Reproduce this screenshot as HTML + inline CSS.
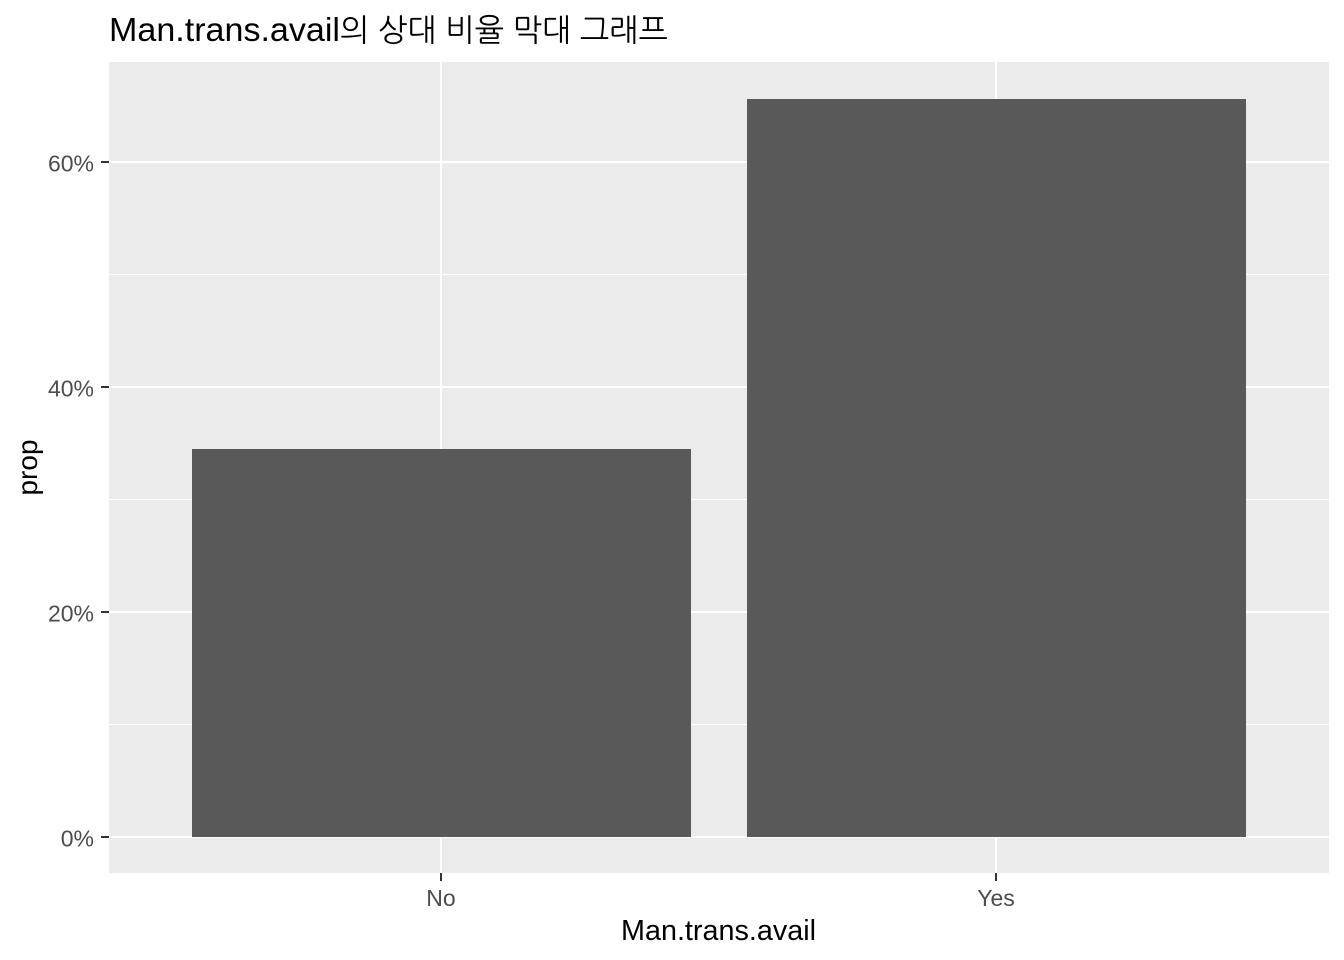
<!DOCTYPE html>
<html lang="ko">
<head>
<meta charset="utf-8">
<title>Man.trans.avail bar chart</title>
<style>
html,body{margin:0;padding:0;background:#fff;width:1344px;height:960px;overflow:hidden}
svg{display:block}
text{font-family:"Liberation Sans","NanumGothic","Noto Sans CJK KR",sans-serif}
</style>
</head>
<body>
<svg id="chart" width="1344" height="960" viewBox="0 0 1344 960" xmlns="http://www.w3.org/2000/svg">
<rect x="0" y="0" width="1344" height="960" fill="#ffffff"/>
<text x="109" y="41" font-size="33" fill="#000000"><tspan textLength="231" lengthAdjust="spacingAndGlyphs">Man.trans.avail</tspan><tspan font-size="31.2">의 상대 비율 막대 그래프</tspan></text>
<rect x="109" y="62" width="1220" height="811" fill="#ebebeb"/>
<g id="grid-minor"></g>
<g id="grid-major"></g>
<g id="bars"></g>
<g id="axis-y"></g>
<g id="axis-x"></g>
<text x="718.5" y="940" font-size="29" text-anchor="middle" fill="#000000" textLength="195" lengthAdjust="spacingAndGlyphs">Man.trans.avail</text>
<text transform="translate(37 467.5) rotate(-90)" font-size="28" text-anchor="middle" fill="#000000">prop</text>
</svg>
<script>
const categories = ['No', 'Yes'];
const proportions = [34.5, 65.6];
const yTickValues = [0, 20, 40, 60];
const yTickLabels = ['0%', '20%', '40%', '60%'];
const yMinorValues = [10, 30, 50];

const NS = 'http://www.w3.org/2000/svg';
const panel = { left: 109, right: 1329, top: 62, bottom: 873 };
const scaleArea = { left: 108.4, right: 1329.4, top: 62, bottom: 874 };
const barWidthBand = 0.9;

function xScale(position) {
  const domainMin = 0.4;
  const domainMax = categories.length + 0.6;
  return scaleArea.left + (position - domainMin) / (domainMax - domainMin) * (scaleArea.right - scaleArea.left);
}
function yScale(value) {
  const top = Math.max(...proportions);
  const pad = top * 0.05;
  const domainMin = -pad;
  const domainMax = top + pad;
  return scaleArea.bottom - (value - domainMin) / (domainMax - domainMin) * (scaleArea.bottom - scaleArea.top);
}
function make(tag, parent, attrs) {
  const el = document.createElementNS(NS, tag);
  for (const key in attrs) el.setAttribute(key, attrs[key]);
  parent.appendChild(el);
  return el;
}

const gridMinor = document.getElementById('grid-minor');
const gridMajor = document.getElementById('grid-major');
const barsGroup = document.getElementById('bars');
const axisY = document.getElementById('axis-y');
const axisX = document.getElementById('axis-x');

yMinorValues.forEach(function (v) {
  const y = Math.floor(yScale(v)) + 0.5;
  const line = make('line', gridMinor, { x1: panel.left, x2: panel.right, y1: y, y2: y, stroke: '#ffffff', 'stroke-width': 1 });
  
  
});

yTickValues.forEach(function (v, i) {
  const y = Math.round(yScale(v));
  const grid = make('line', gridMajor, { x1: panel.left, x2: panel.right, y1: y, y2: y, stroke: '#ffffff', 'stroke-width': 2 });
  
  
  const tick = make('line', axisY, { x1: 101, x2: panel.left, y1: y, y2: y, stroke: '#333333', 'stroke-width': 2 });
  
  
  const label = make('text', axisY, { x: 94, y: y + 9.5, 'font-size': 23, 'text-anchor': 'end', fill: '#4d4d4d' });
  
  
  label.textContent = yTickLabels[i];
});

categories.forEach(function (c, i) {
  const x = Math.round(xScale(i + 1));
  const grid = make('line', gridMajor, { x1: x, x2: x, y1: panel.top, y2: panel.bottom, stroke: '#ffffff', 'stroke-width': 2 });
  
  
  const left = Math.round(xScale(i + 1 - barWidthBand / 2));
  const right = Math.round(xScale(i + 1 + barWidthBand / 2));
  const top = Math.round(yScale(proportions[i]));
  const bar = make('rect', barsGroup, { x: left, y: top, width: right - left, height: Math.round(yScale(0)) - top, fill: '#595959' });
  
  
  const tick = make('line', axisX, { x1: x, x2: x, y1: panel.bottom, y2: 881, stroke: '#333333', 'stroke-width': 2 });
  
  
  const label = make('text', axisX, { x: x, y: 906, 'font-size': 23, 'text-anchor': 'middle', fill: '#4d4d4d' });
  
  
  label.textContent = c;
});
</script>
</body>
</html>
